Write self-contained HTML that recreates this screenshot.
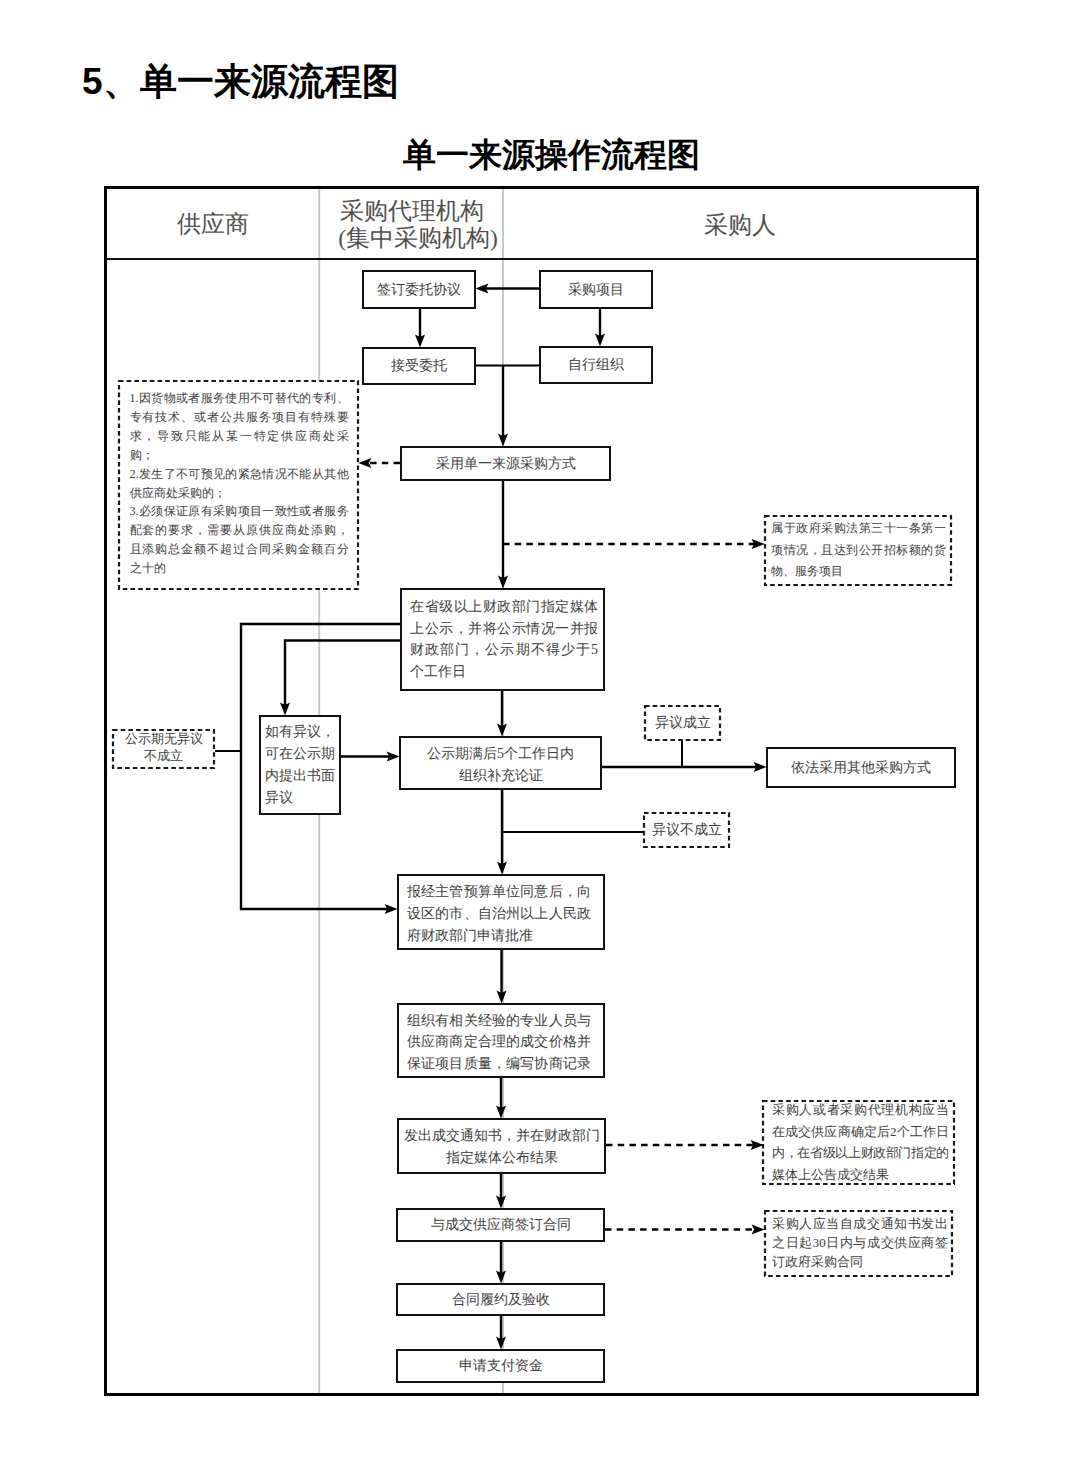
<!DOCTYPE html>
<html><head><meta charset="utf-8">
<style>
html,body{margin:0;padding:0;background:#fff;}
body{width:1080px;height:1466px;position:relative;overflow:hidden;font-family:"Liberation Serif",serif;color:#404040;}
svg{position:absolute;left:0;top:0;}
.t{position:absolute;white-space:nowrap;font-size:14px;}
.c{text-align:center;}
.jj{text-align:justify;text-align-last:justify;}
#h1{position:absolute;left:82px;top:57px;font-family:"Liberation Sans",sans-serif;font-weight:bold;font-size:37px;line-height:50px;color:#000;white-space:nowrap;}
#h2{position:absolute;left:403px;top:132px;font-family:"Liberation Serif",serif;font-weight:bold;font-size:32.5px;line-height:46px;color:#000;white-space:nowrap;}
.hd{position:absolute;font-size:23.5px;color:#505050;text-align:center;white-space:nowrap;}
</style></head><body>
<div id="h1">5、单一来源流程图</div>
<div id="h2">单一来源操作流程图</div>
<svg width="1080" height="1466" viewBox="0 0 1080 1466">
<g stroke="#c8c8c8" stroke-width="2" fill="none"><line x1="319.2" y1="189" x2="319.2" y2="1393"/><line x1="503" y1="189" x2="503" y2="1393"/></g>
<rect x="105.5" y="187.5" width="872" height="1207" fill="none" stroke="#000" stroke-width="3"/>
<line x1="105" y1="259" x2="978" y2="259" stroke="#111" stroke-width="2"/>
<g stroke="#000" stroke-width="2.4" fill="none" stroke-linecap="butt">
<polyline points="539.00,288.50 484.00,288.50"/>
<polyline points="420.00,309.00 420.00,339.00"/>
<polyline points="600.00,309.00 600.00,338.00"/>
<polyline points="503.00,365.50 503.00,438.00"/>
<polyline points="503.00,481.00 503.00,580.00"/>
<polyline points="400.00,624.00 241.00,624.00 241.00,909.00 389.00,909.00"/>
<polyline points="400.00,640.50 285.00,640.50 285.00,707.00"/>
<polyline points="341.00,756.50 391.00,756.50"/>
<polyline points="502.00,691.00 502.00,728.00"/>
<polyline points="602.00,767.00 758.00,767.00"/>
<polyline points="502.00,790.00 502.00,866.00"/>
<polyline points="501.50,950.00 501.50,995.00"/>
<polyline points="501.00,1078.00 501.00,1110.00"/>
<polyline points="501.00,1174.00 501.00,1200.00"/>
<polyline points="501.00,1242.00 501.00,1275.00"/>
<polyline points="501.00,1316.00 501.00,1341.00"/>
<polyline stroke-width="2" points="476.00,365.50 539.00,365.50"/>
<polyline stroke-width="2" points="215.00,751.00 241.00,751.00"/>
<polyline stroke-width="2" points="682.00,741.00 682.00,767.00"/>
<polyline stroke-width="2" points="502.00,832.00 643.00,832.00"/>
</g>
<g stroke="#000" stroke-width="2.6" fill="none" stroke-dasharray="6.5 5.2">
<polyline points="400.00,463.00 367.00,463.00"/>
<polyline points="503.00,544.00 756.00,544.00"/>
<polyline points="606.00,1145.00 755.00,1145.00"/>
<polyline points="605.00,1229.50 756.00,1229.50"/>
</g>
<g fill="#fff" stroke="#111" stroke-width="2">
<rect x="363" y="271" width="112" height="37"/>
<rect x="540" y="271" width="112" height="37"/>
<rect x="363" y="348" width="112" height="36"/>
<rect x="540" y="347" width="112" height="36"/>
<rect x="401" y="447" width="209" height="33"/>
<rect x="401" y="589" width="203" height="101"/>
<rect x="260" y="716" width="80" height="98"/>
<rect x="400" y="737" width="201" height="52"/>
<rect x="767" y="748" width="188" height="39"/>
<rect x="398" y="875" width="206" height="74"/>
<rect x="398" y="1004" width="206" height="73"/>
<rect x="398" y="1119" width="207" height="54"/>
<rect x="397" y="1209" width="207" height="32"/>
<rect x="397" y="1284" width="207" height="31"/>
<rect x="397" y="1350" width="207" height="32"/>
</g>
<g fill="#fff" stroke="#1a1a1a" stroke-width="2.2" stroke-dasharray="4.6 3.1">
<rect x="119" y="381" width="239" height="208"/>
<rect x="765" y="516" width="186" height="69"/>
<rect x="113" y="730" width="101" height="38"/>
<rect x="645" y="706" width="75" height="34"/>
<rect x="644" y="813" width="85" height="34"/>
<rect x="763" y="1101" width="191" height="83"/>
<rect x="765" y="1211" width="187" height="65"/>
</g>
<path d="M475.40,288.50 L488.40,283.50 L485.90,288.50 L488.40,293.50 Z" fill="#000"/>
<path d="M420.00,347.60 L415.00,334.60 L420.00,337.10 L425.00,334.60 Z" fill="#000"/>
<path d="M600.00,346.60 L595.00,333.60 L600.00,336.10 L605.00,333.60 Z" fill="#000"/>
<path d="M503.00,446.60 L498.00,433.60 L503.00,436.10 L508.00,433.60 Z" fill="#000"/>
<path d="M503.00,588.60 L498.00,575.60 L503.00,578.10 L508.00,575.60 Z" fill="#000"/>
<path d="M397.60,909.00 L384.60,914.00 L387.10,909.00 L384.60,904.00 Z" fill="#000"/>
<path d="M285.00,715.60 L280.00,702.60 L285.00,705.10 L290.00,702.60 Z" fill="#000"/>
<path d="M399.60,756.50 L386.60,761.50 L389.10,756.50 L386.60,751.50 Z" fill="#000"/>
<path d="M502.00,736.60 L497.00,723.60 L502.00,726.10 L507.00,723.60 Z" fill="#000"/>
<path d="M766.60,767.00 L753.60,772.00 L756.10,767.00 L753.60,762.00 Z" fill="#000"/>
<path d="M502.00,874.60 L497.00,861.60 L502.00,864.10 L507.00,861.60 Z" fill="#000"/>
<path d="M501.50,1003.60 L496.50,990.60 L501.50,993.10 L506.50,990.60 Z" fill="#000"/>
<path d="M501.00,1118.60 L496.00,1105.60 L501.00,1108.10 L506.00,1105.60 Z" fill="#000"/>
<path d="M501.00,1208.60 L496.00,1195.60 L501.00,1198.10 L506.00,1195.60 Z" fill="#000"/>
<path d="M501.00,1283.60 L496.00,1270.60 L501.00,1273.10 L506.00,1270.60 Z" fill="#000"/>
<path d="M501.00,1349.60 L496.00,1336.60 L501.00,1339.10 L506.00,1336.60 Z" fill="#000"/>
<path d="M358.40,463.00 L371.40,458.00 L368.90,463.00 L371.40,468.00 Z" fill="#000"/>
<path d="M764.60,544.00 L751.60,549.00 L754.10,544.00 L751.60,539.00 Z" fill="#000"/>
<path d="M763.60,1145.00 L750.60,1150.00 L753.10,1145.00 L750.60,1140.00 Z" fill="#000"/>
<path d="M764.60,1229.50 L751.60,1234.50 L754.10,1229.50 L751.60,1224.50 Z" fill="#000"/>
</svg>
<!-- header texts -->
<div class="hd" style="left:107px;top:208px;width:212px;line-height:32px;">供应商</div>
<div class="hd" style="left:321px;top:197px;width:182px;line-height:28px;">采购代理机构</div>
<div class="hd" style="left:327px;top:224px;width:182px;line-height:28px;">(集中采购机构)</div>
<div class="hd" style="left:503px;top:209px;width:474px;line-height:32px;">采购人</div>

<!-- centered box texts -->
<div class="t c" style="left:363px;top:271px;width:112px;line-height:37px;">签订委托协议</div>
<div class="t c" style="left:540px;top:271px;width:112px;line-height:37px;">采购项目</div>
<div class="t c" style="left:363px;top:348px;width:112px;line-height:36px;">接受委托</div>
<div class="t c" style="left:540px;top:347px;width:112px;line-height:36px;">自行组织</div>
<div class="t c" style="left:401px;top:447px;width:209px;line-height:33px;">采用单一来源采购方式</div>
<div class="t c" style="left:767px;top:748px;width:188px;line-height:39px;">依法采用其他采购方式</div>
<div class="t c" style="left:645px;top:706px;width:75px;line-height:34px;font-size:14px;">异议成立</div>
<div class="t c" style="left:644px;top:813px;width:85px;line-height:34px;font-size:14px;">异议不成立</div>
<div class="t c" style="left:113px;top:731px;width:101px;line-height:17px;font-size:12.5px;">公示期无异议<br>不成立</div>
<div class="t c" style="left:400px;top:743px;width:201px;line-height:22.4px;">公示期满后5个工作日内<br>组织补充论证</div>
<div class="t c" style="left:398px;top:1125px;width:207px;line-height:21.7px;">发出成交通知书，并在财政部门<br>指定媒体公布结果</div>
<div class="t c" style="left:397px;top:1209px;width:207px;line-height:32px;">与成交供应商签订合同</div>
<div class="t c" style="left:397px;top:1284px;width:207px;line-height:31px;">合同履约及验收</div>
<div class="t c" style="left:397px;top:1350px;width:207px;line-height:32px;">申请支付资金</div>

<!-- multi-line justified blocks -->
<div class="t" style="left:129.5px;top:389px;width:219px;line-height:18.9px;font-size:12px;">
<div class="jj">1.因货物或者服务使用不可替代的专利、</div>
<div class="jj">专有技术、或者公共服务项目有特殊要</div>
<div class="jj">求，导致只能从某一特定供应商处采</div>
<div>购；</div>
<div class="jj">2.发生了不可预见的紧急情况不能从其他</div>
<div>供应商处采购的；</div>
<div class="jj">3.必须保证原有采购项目一致性或者服务</div>
<div class="jj">配套的要求，需要从原供应商处添购，</div>
<div class="jj">且添购总金额不超过合同采购金额百分</div>
<div>之十的</div>
</div>
<div class="t" style="left:771px;top:518px;width:175px;line-height:21.6px;font-size:12px;">
<div class="jj">属于政府采购法第三十一条第一</div>
<div class="jj">项情况，且达到公开招标额的货</div>
<div>物、服务项目</div>
</div>
<div class="t" style="left:410px;top:596px;width:188px;line-height:21.7px;">
<div class="jj">在省级以上财政部门指定媒体</div>
<div class="jj">上公示，并将公示情况一并报</div>
<div class="jj">财政部门，公示期不得少于5</div>
<div>个工作日</div>
</div>
<div class="t" style="left:264.5px;top:721px;width:70px;line-height:22px;">
<div>如有异议，</div>
<div class="jj">可在公示期</div>
<div class="jj">内提出书面</div>
<div>异议</div>
</div>
<div class="t" style="left:407px;top:881px;width:184px;line-height:22px;">
<div class="jj">报经主管预算单位同意后，向</div>
<div class="jj">设区的市、自治州以上人民政</div>
<div>府财政部门申请批准</div>
</div>
<div class="t" style="left:407px;top:1009.5px;width:184px;line-height:21.6px;">
<div class="jj">组织有相关经验的专业人员与</div>
<div class="jj">供应商商定合理的成交价格并</div>
<div class="jj">保证项目质量，编写协商记录</div>
</div>
<div class="t" style="left:772px;top:1099px;width:177px;line-height:21.7px;font-size:13px;">
<div class="jj">采购人或者采购代理机构应当</div>
<div class="jj">在成交供应商确定后2个工作日</div>
<div class="jj" style="letter-spacing:-0.45px">内，在省级以上财政部门指定的</div>
<div>媒体上公告成交结果</div>
</div>
<div class="t" style="left:772px;top:1215px;width:176px;line-height:18.8px;font-size:13px;">
<div class="jj">采购人应当自成交通知书发出</div>
<div class="jj">之日起30日内与成交供应商签</div>
<div>订政府采购合同</div>
</div>
</body></html>
